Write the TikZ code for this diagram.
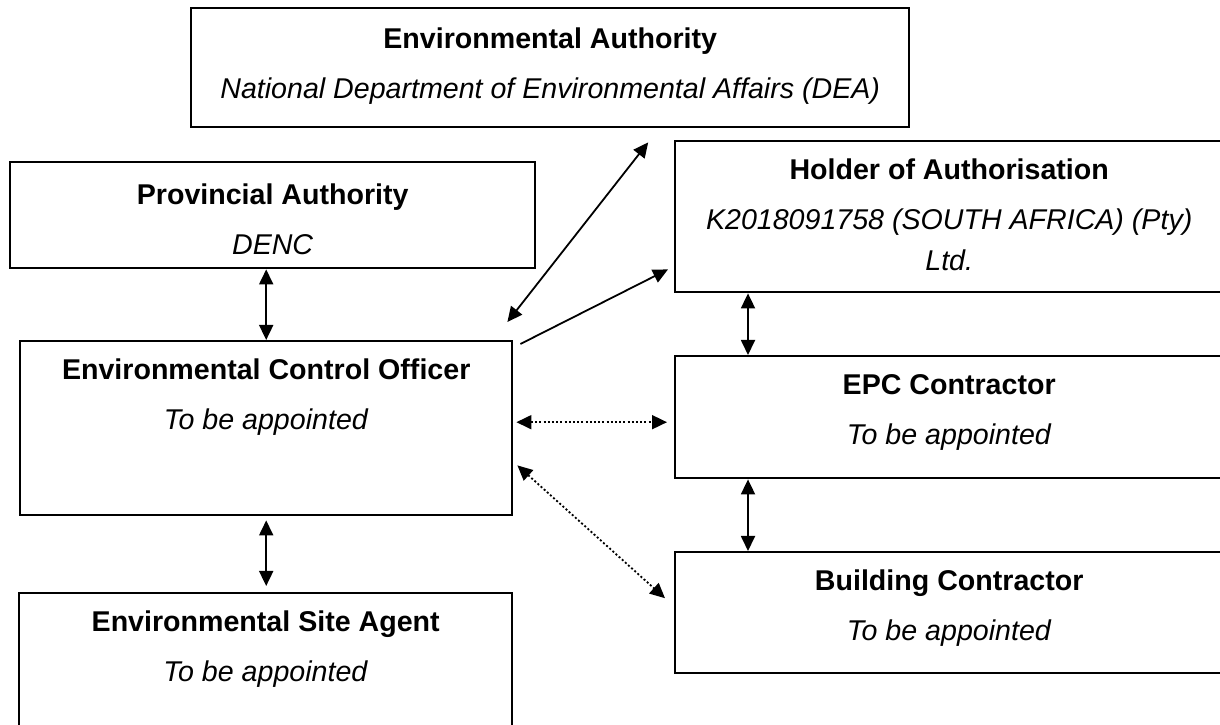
\documentclass[tikz,border=0pt]{standalone}
\usepackage{fontspec}
\setmainfont{Liberation Sans}
\usepackage{tikz}
\newcommand{\roletext}[5]{%
	\begin{minipage}[t][#2][t]{#1}
		\centering\fontsize{28.6}{41}\selectfont
		\rule{0pt}{#3}\textbf{#4}\\[9pt]
		\textit{#5}
	\end{minipage}}
\usetikzlibrary{arrows.meta, positioning}
\tikzstyle{rolebox} = [draw, line width=2.4pt, rectangle, inner sep=0pt, anchor=north west]
\tikzstyle{link} = [line width=1.8pt, -{Triangle[length=15pt, width=14pt]}]
\tikzstyle{duallink} = [line width=1.8pt, {Triangle[length=15pt, width=14pt]}-{Triangle[length=15pt, width=14pt]}]
\tikzstyle{dottedlink} = [duallink, dash pattern=on 2pt off 2.2pt]

\begin{document}
\begin{tikzpicture}[x=1pt, y=1pt]
	\useasboundingbox (0,0) rectangle (1220,725);
	% the boxes
	\node [rolebox] (ea) at (190,718) {\roletext{718pt}{119pt}{40pt}{Environmental Authority}{National Department of Environmental Affairs (DEA)}};
	\node [rolebox] (prov) at (9,564) {\roletext{525pt}{106pt}{42pt}{Provincial Authority}{DENC}};
	\node [rolebox] (holder) at (674,585) {\roletext{548pt}{151pt}{38pt}{Holder of Authorisation}{K2018091758 (SOUTH AFRICA) (Pty)\\ Ltd.}};
	\node [rolebox] (eco) at (19,385) {\roletext{492pt}{174pt}{38pt}{Environmental Control Officer}{To be appointed}};
	\node [rolebox] (epc) at (674,370) {\roletext{548pt}{122pt}{38pt}{EPC Contractor}{To be appointed}};
	\node [rolebox] (build) at (674,174) {\roletext{548pt}{121pt}{38pt}{Building Contractor}{To be appointed}};
	\node [rolebox] (site) at (18,133) {\roletext{493pt}{145pt}{38pt}{Environmental Site Agent}{To be appointed}};
	% the links
	\draw [duallink] (eco.north) -- (eco.north |- prov.south);
	\draw [duallink] ([shift={(-6,18)}]eco.north east) -- ([shift={(98,-14)}]ea.south);
	\draw [link] ([shift={(7,-4)}]eco.north east) -- ([shift={(-6,24)}]holder.south west);
	\draw [duallink] ([xshift=74pt]holder.south west) -- ([xshift=74pt]epc.north west);
	\draw [dottedlink] ([shift={(3,6)}]eco.east) -- ([shift={(-7,-5)}]epc.west);
	\draw [dottedlink] ([shift={(4,51)}]eco.south east) -- ([shift={(-9,14.5)}]build.west);
	\draw [duallink] ([xshift=74pt]epc.south west) -- ([xshift=74pt]build.north west);
	\draw [duallink] ([yshift=-4pt]eco.south) -- ([shift={(0.5,6)}]site.north);
\end{tikzpicture}
\end{document}
